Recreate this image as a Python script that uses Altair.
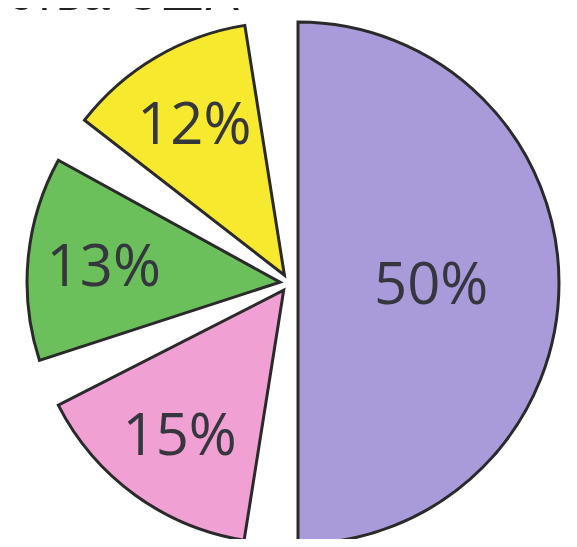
import altair as alt
import pandas as pd

# Data
labels = ["50%", "15%", "13%", "12%"]
values = [50, 15, 13, 12]
colors = ["#a99bd9", "#f0a0d2", "#6cc05c", "#f6e92e"]
order = [0, 1, 2, 3]
title_text = ["ства США"]

# Style / layout constants
GAP = 2.5          # gap between slices, in percent of the full circle
R_BIG = 261        # radius of the half slice (px)
R_SMALL = 253      # radius of the other slices (px)
CX, CY = 281, 275  # pie centre (px)
EXPLODE = 9        # explode distance (px)

df = pd.DataFrame({"label": labels, "value": values, "color": colors, "order": order})

base = (
    alt.Chart(df)
    .transform_calculate(span=f"datum.value + {GAP}")
    .transform_window(cum="sum(span)", sort=[alt.SortField("order")], frame=[None, 0])
    .transform_calculate(end=f"datum.cum - {GAP}")
    .transform_calculate(start="datum.end - datum.value")
    .transform_calculate(mid="(datum.start + datum.end) / 2 * PI / 50")
    .transform_calculate(r=f"datum.value >= 50 ? {R_BIG} : {R_SMALL}")
    .transform_calculate(cx=f"{CX} + {EXPLODE} * sin(datum.mid)")
    .transform_calculate(cy=f"{CY} - {EXPLODE} * cos(datum.mid)")
    .transform_calculate(lr="datum.r * (datum.value >= 50 ? 0.51 : 0.70)")
    .transform_calculate(lx="datum.cx + datum.lr * sin(datum.mid)")
    .transform_calculate(ly="datum.cy - datum.lr * cos(datum.mid)")
)

arcs = base.mark_arc(stroke="#2a2a2a", strokeWidth=3).encode(
    theta=alt.Theta("start:Q", scale=alt.Scale(domain=[0, 100]), stack=None),
    theta2="end:Q",
    radius=alt.Radius("r:Q", scale=None),
    x=alt.X("cx:Q", scale=None),
    y=alt.Y("cy:Q", scale=None),
    color=alt.Color("color:N", scale=None),
)

texts = base.mark_text(font="Open Sans", fontSize=58, color="#36363f", dy=4).encode(
    x=alt.X("lx:Q", scale=None),
    y=alt.Y("ly:Q", scale=None),
    text="label:N",
)

title = alt.Chart(pd.DataFrame({"t": title_text})).mark_text(
    align="left", baseline="alphabetic", fontSize=50, font="Liberation Sans", color="#222222"
).encode(x=alt.value(0), y=alt.value(2), text="t:N")

chart = (
    alt.layer(arcs, texts, title)
    .properties(width=561, height=531, autosize="none", padding=0, background="white")
    .configure_view(stroke=None)
)

chart.save("out.html", embed_options={"renderer": "svg", "actions": False})
